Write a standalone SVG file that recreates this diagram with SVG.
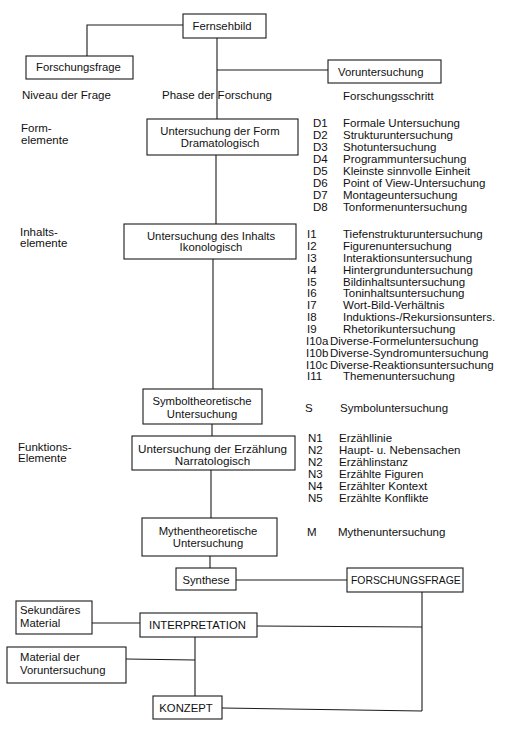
<svg xmlns="http://www.w3.org/2000/svg" width="518" height="734" viewBox="0 0 518 734">
<style>
.box{fill:#fff;stroke:#1a1a1a;stroke-width:1.1}
.ln{fill:none;stroke:#1a1a1a;stroke-width:1.1}
text{font-family:"Liberation Sans",Arial,Helvetica,sans-serif;font-size:11.3px;fill:#111}
.c{text-anchor:middle}
.r{font-size:11.5px}
</style>
<rect width="518" height="734" fill="#fff"/>
<g id="connectors">
<polyline class="ln" points="183,25 87,25 87,56"/>
<line class="ln" x1="217" y1="38" x2="217" y2="119"/>
<line class="ln" x1="217" y1="70" x2="328" y2="70"/>
<line class="ln" x1="216" y1="155" x2="216" y2="224"/>
<line class="ln" x1="213" y1="259" x2="213" y2="389"/>
<line class="ln" x1="212" y1="424" x2="212" y2="436"/>
<line class="ln" x1="211" y1="470" x2="211" y2="518"/>
<line class="ln" x1="210" y1="556" x2="210" y2="568"/>
<line class="ln" x1="236" y1="580" x2="347" y2="580"/>
<line class="ln" x1="422" y1="592" x2="422" y2="711"/>
<line class="ln" x1="257" y1="626" x2="422" y2="627"/>
<line class="ln" x1="92" y1="623" x2="140" y2="623"/>
<line class="ln" x1="195" y1="637" x2="195" y2="696"/>
<line class="ln" x1="126" y1="659" x2="195" y2="660"/>
<line class="ln" x1="222" y1="708" x2="422" y2="711"/>
</g>
<g id="n-fernsehbild"><rect class="box" x="183" y="14" width="83" height="24"/><text class="c" x="222" y="30">Fernsehbild</text></g>
<g id="n-forschungsfrage"><rect class="box" x="26" y="56" width="107" height="23"/><text x="36" y="71">Forschungsfrage</text></g>
<g id="n-voruntersuchung"><rect class="box" x="328" y="60" width="113" height="23"/><text x="338" y="76">Voruntersuchung</text></g>
<g id="headers">
<text class="r" x="22" y="99">Niveau der Frage</text>
<text class="r" x="162" y="99">Phase der Forschung</text>
<text class="r" x="343" y="100">Forschungsschritt</text>
</g>
<g id="levels">
<text class="r" x="21" y="132">Form-</text>
<text class="r" x="21" y="144">elemente</text>
<text class="r" x="20" y="236">Inhalts-</text>
<text class="r" x="20" y="247">elemente</text>
<text class="r" x="18" y="451">Funktions-</text>
<text class="r" x="18" y="462">Elemente</text>
</g>
<g id="n-form"><rect class="box" x="147" y="119" width="151" height="36"/><text class="c" x="220" y="135">Untersuchung der Form</text><text class="c" x="220" y="147">Dramatologisch</text></g>
<g id="n-inhalt"><rect class="box" x="124" y="224" width="172" height="35"/><text class="c" x="211" y="239.5">Untersuchung des Inhalts</text><text class="c" x="211" y="251">Ikonologisch</text></g>
<g id="n-symbol"><rect class="box" x="143" y="389" width="119" height="35"/><text class="c" x="202" y="405">Symboltheoretische</text><text class="c" x="202" y="418">Untersuchung</text></g>
<g id="n-erzaehlung"><rect class="box" x="132" y="436" width="163" height="34"/><text class="c" x="212.5" y="453" style="font-size:11.7px">Untersuchung der Erzählung</text><text class="c" x="212.5" y="465" style="font-size:11.7px">Narratologisch</text></g>
<g id="n-mythen"><rect class="box" x="142" y="518" width="135" height="38"/><text class="c" x="208" y="535">Mythentheoretische</text><text class="c" x="208" y="547">Untersuchung</text></g>
<g id="n-synthese"><rect class="box" x="176" y="568" width="60" height="22"/><text class="c" x="206" y="584">Synthese</text></g>
<g id="n-forschungsfrage2"><rect class="box" x="347" y="568" width="116" height="24"/><text x="351" y="584" style="font-size:10.4px">FORSCHUNGSFRAGE</text></g>
<g id="n-sekundaer"><rect class="box" x="16" y="601" width="76" height="33"/><text x="20" y="614">Sekundäres</text><text x="20" y="627">Material</text></g>
<g id="n-interpretation"><rect class="box" x="140" y="613" width="117" height="24"/><text x="149" y="629">INTERPRETATION</text></g>
<g id="n-material"><rect class="box" x="7" y="647" width="119" height="36"/><text x="20" y="661">Material der</text><text x="20" y="674">Voruntersuchung</text></g>
<g id="n-konzept"><rect class="box" x="153" y="696" width="69" height="23"/><text class="c" x="186" y="712">KONZEPT</text></g>
<g id="steps">
<text class="r" x="313" y="127">D1</text><text class="r" x="343" y="127">Formale Untersuchung</text>
<text class="r" x="313" y="139">D2</text><text class="r" x="343" y="139">Strukturuntersuchung</text>
<text class="r" x="313" y="151">D3</text><text class="r" x="343" y="151">Shotuntersuchung</text>
<text class="r" x="313" y="163">D4</text><text class="r" x="343" y="163">Programmuntersuchung</text>
<text class="r" x="313" y="174.5">D5</text><text class="r" x="343" y="174.5">Kleinste sinnvolle Einheit</text>
<text class="r" x="313" y="186.5">D6</text><text class="r" x="343" y="186.5">Point of View-Untersuchung</text>
<text class="r" x="313" y="198.5">D7</text><text class="r" x="343" y="198.5">Montageuntersuchung</text>
<text class="r" x="313" y="210.5">D8</text><text class="r" x="343" y="210.5">Tonformenuntersuchung</text>
<text class="r" x="307" y="238">I1</text><text class="r" x="343" y="238">Tiefenstrukturuntersuchung</text>
<text class="r" x="307" y="250">I2</text><text class="r" x="343" y="250">Figurenuntersuchung</text>
<text class="r" x="307" y="262">I3</text><text class="r" x="343" y="262">Interaktionsuntersuchung</text>
<text class="r" x="307" y="273.5">I4</text><text class="r" x="343" y="273.5">Hintergrunduntersuchung</text>
<text class="r" x="307" y="285.5">I5</text><text class="r" x="343" y="285.5">Bildinhaltsuntersuchung</text>
<text class="r" x="307" y="297">I6</text><text class="r" x="343" y="297">Toninhaltsuntersuchung</text>
<text class="r" x="307" y="309">I7</text><text class="r" x="343" y="309">Wort-Bild-Verhältnis</text>
<text class="r" x="307" y="321">I8</text><text class="r" x="343" y="321">Induktions-/Rekursionsunters.</text>
<text class="r" x="307" y="333">I9</text><text class="r" x="343" y="333">Rhetorikuntersuchung</text>
<text class="r" x="306" y="344.5">I10a</text><text class="r" x="330" y="344.5">Diverse-Formeluntersuchung</text>
<text class="r" x="306" y="356.5">I10b</text><text class="r" x="330" y="356.5">Diverse-Syndromuntersuchung</text>
<text class="r" x="306" y="368.5">I10c</text><text class="r" x="330" y="368.5">Diverse-Reaktionsuntersuchung</text>
<text class="r" x="307" y="380">I11</text><text class="r" x="343" y="380">Themenuntersuchung</text>
<text class="r" x="305" y="412">S</text><text class="r" x="340" y="412">Symboluntersuchung</text>
<text class="r" x="308" y="442">N1</text><text class="r" x="339" y="442">Erzähllinie</text>
<text class="r" x="308" y="454">N2</text><text class="r" x="339" y="454">Haupt- u. Nebensachen</text>
<text class="r" x="308" y="466">N2</text><text class="r" x="339" y="466">Erzählinstanz</text>
<text class="r" x="308" y="478">N3</text><text class="r" x="339" y="478">Erzählte Figuren</text>
<text class="r" x="308" y="490">N4</text><text class="r" x="339" y="490">Erzählter Kontext</text>
<text class="r" x="308" y="502">N5</text><text class="r" x="339" y="502">Erzählte Konflikte</text>
<text class="r" x="307" y="536">M</text><text class="r" x="338" y="536">Mythenuntersuchung</text>
</g>
</svg>
